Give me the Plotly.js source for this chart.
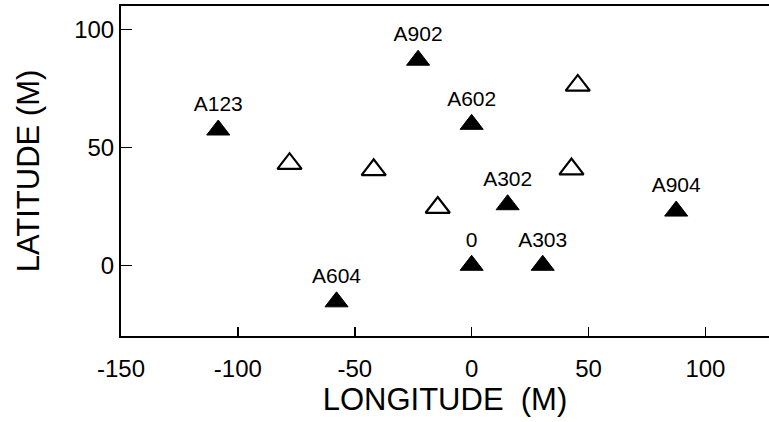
<!DOCTYPE html>
<html>
<head>
<meta charset="utf-8">
<script src="https://cdn.plot.ly/plotly-3.0.1.min.js"></script>
<style>html,body{margin:0;padding:0;background:#fff;}#chart{width:769px;height:422px;}</style>
</head>
<body>
<div id="chart"></div>
<script>
// Labelled stations (filled triangles)
var stationNames = ["A123", "A902", "A602", "A302", "0", "A303", "A904", "A604"];
var stationLon   = [-108.4, -22.9, 0, 15.4, 0, 30.4, 87.5, -57.8];
var stationLat   = [57.4, 87.0, 59.8, 25.7, 0, 0, 23.0, -15.5];

// Unlabelled points (open triangles)
var openLon = [-77.9, -41.9, -14.5, 42.7, 45.4];
var openLat = [43.1, 40.5, 24.5, 40.8, 76.3];

var xTicks = [-150, -100, -50, 0, 50, 100];
var yTicks = [0, 50, 100];

var font = "Liberation Sans, Arial, Helvetica, sans-serif";

var traces = [
  {
    type: "scatter", mode: "markers",
    x: openLon, y: openLat,
    marker: {symbol: "triangle-up-open", size: 21, color: "#000", line: {width: 2.2, color: "#000"}},
    hoverinfo: "skip", showlegend: false
  },
  {
    type: "scatter", mode: "markers+text",
    x: stationLon, y: stationLat,
    text: stationNames, textposition: "top center",
    textfont: {family: font, size: 21, color: "#000"},
    marker: {symbol: "triangle-up", size: 20, color: "#000", line: {width: 1, color: "#000"}},
    hoverinfo: "skip", showlegend: false, cliponaxis: false
  }
];

var layout = {
  width: 769, height: 422,
  margin: {l: 121, r: 0, t: 6, b: 86, pad: 0},
  paper_bgcolor: "#fff", plot_bgcolor: "#fff",
  font: {family: font, color: "#000"},
  showlegend: false,
  xaxis: {
    range: [-150, 127.2], tickvals: xTicks, ticktext: xTicks.map(String),
    showgrid: false, zeroline: false,
    showline: true, linecolor: "#000", linewidth: 2, mirror: true,
    ticks: "inside", ticklen: 9, tickwidth: 1.5, tickcolor: "#000",
    tickfont: {family: font, size: 24, color: "#000"},
    ticklabelstandoff: 10,
    title: {text: "LONGITUDE\u00a0\u00a0(M)", font: {family: font, size: 31, color: "#000"}, standoff: 4}
  },
  yaxis: {
    range: [-30, 110], tickvals: yTicks, ticktext: yTicks.map(String),
    showgrid: false, zeroline: false,
    showline: true, linecolor: "#000", linewidth: 2,
    ticks: "inside", ticklen: 11, tickwidth: 1.5, tickcolor: "#000",
    tickfont: {family: font, size: 24, color: "#000"},
    title: {text: "LATITUDE (M)", font: {family: font, size: 31, color: "#000"}, standoff: 25}
  }
};

Plotly.newPlot("chart", traces, layout, {displayModeBar: false, staticPlot: true});
</script>
</body>
</html>
